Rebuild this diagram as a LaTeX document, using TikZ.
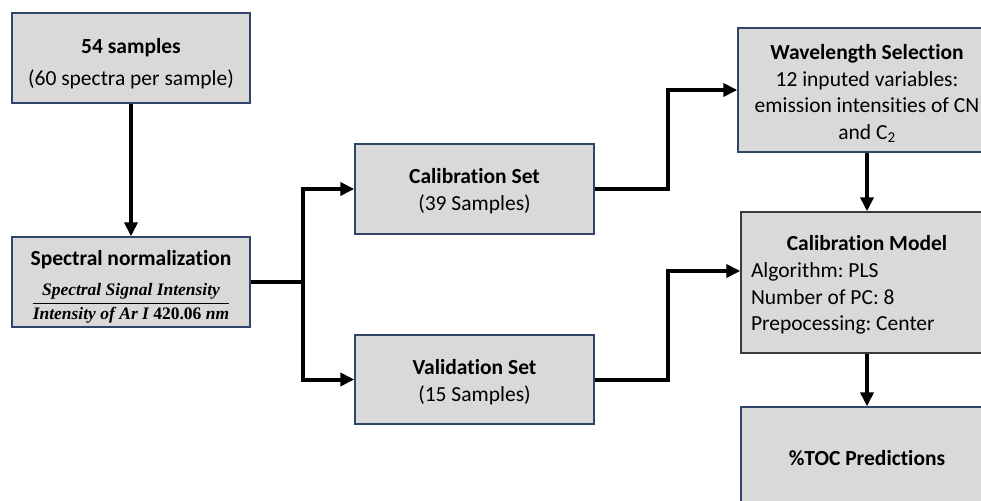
\documentclass[tikz,border=0pt]{standalone}
\usepackage{amsmath}
\usepackage{fontspec}
\setmainfont{Carlito}[Ligatures=NoCommon]
\newfontfamily\formulafont{Liberation Serif}
\usetikzlibrary{arrows.meta,calc}

\definecolor{boxfill}{HTML}{D9D9D9}
\definecolor{boxline}{HTML}{2F4468}
\definecolor{boxgray}{HTML}{3A3A3A}

\newcommand{\ftxt}[1]{\text{\formulafont\bfseries\itshape #1}}

\tikzset{
  stagebox/.style={draw=boxline, line width=1.4pt, fill=boxfill, inner sep=0pt,
    align=center, font=\fontsize{21.5}{26.7}\selectfont\frenchspacing},
  conn/.style={line width=4pt, -{Triangle[length=14pt,width=13pt]}},
}

\begin{document}
\begin{tikzpicture}[x=1pt,y=-1pt]
  \useasboundingbox (0,0) rectangle (981,500);
  \clip (0,0) rectangle (981,500);

  % left column
  \node[stagebox, minimum width=238pt, minimum height=90pt] (samples) at (131,58)
    {\rule{0pt}{26pt}\textbf{54 samples}\\[5pt](60 spectra per sample)};
  \node[stagebox, minimum width=238pt, minimum height=90pt] (norm) at (131,282)
    {\rule{0pt}{24pt}\textbf{Spectral normalization}\\[14pt]
     {\fontsize{17.5}{19}\selectfont
      $\dfrac{\ftxt{Spectral Signal Intensity}}{\ftxt{Intensity of Ar I \upshape 420.06 \itshape nm}}$}};

  % middle column
  \node[stagebox, minimum width=239pt, minimum height=90pt] (calib) at (474.5,189)
    {\rule{0pt}{20pt}\textbf{Calibration Set}\\(39 Samples)};
  \node[stagebox, minimum width=239pt, minimum height=89pt] (valid) at (474.5,379.5)
    {\rule{0pt}{20pt}\textbf{Validation Set}\\(15 Samples)};

  % right column
  \node[stagebox, minimum width=258pt, minimum height=124pt] (wave) at (867,90)
    {\rule{0pt}{22pt}\textbf{Wavelength Selection}\\12 inputed variables:\\emission intensities of CN\\and C\textsubscript{2}};
  \node[stagebox, draw=boxgray, minimum width=252pt, minimum height=141pt,
        align=left] (model) at (867,282.5)
    {\rule{0pt}{20pt}\makebox[232pt]{\textbf{Calibration Model}}\\Algorithm: PLS\\Number of PC: 8\\Prepocessing: Center};
  \node[stagebox, minimum width=252pt, minimum height=102pt] (toc) at (867,458)
    {\textbf{\%TOC Predictions}};

  % connectors
  \draw[conn] (samples.south) -- (norm.north);
  \coordinate (split) at ($(norm.east)+(52,0)$);
  \draw[line width=4pt] (norm.east) -- (split);
  \draw[conn] (split) |- (calib.west);
  \draw[conn] (split) |- (valid.west);
  \coordinate (bendA) at ($(calib.east)+(73,0)$);
  \draw[conn] (calib.east) -- (bendA) |- (wave.west);
  \coordinate (bendB) at ($(valid.east)+(73,0)$);
  \draw[conn] (valid.east) -- (bendB) |- ([yshift=11.5pt]model.west);
  \draw[conn] (wave.south) -- (model.north);
  \draw[conn] (model.south) -- (toc.north);
\end{tikzpicture}
\end{document}
